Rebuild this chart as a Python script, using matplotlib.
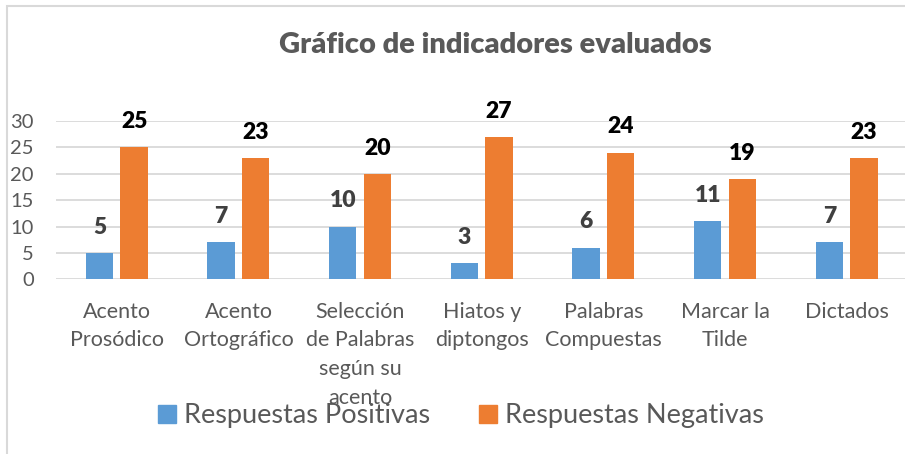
import matplotlib.pyplot as plt
import numpy as np
from matplotlib.patches import Patch, Rectangle

plt.rcParams['font.family'] = ['Lato', 'DejaVu Sans']

categorias = ['Acento\nProsódico', 'Acento\nOrtográfico', 'Selección\nde Palabras\nsegún su\nacento',
              'Hiatos y\ndiptongos', 'Palabras\nCompuestas', 'Marcar la\nTilde', 'Dictados']
positivas = [5, 7, 10, 3, 6, 11, 7]
negativas = [25, 23, 20, 27, 24, 19, 23]
series = ['Respuestas Positivas', 'Respuestas Negativas']
azul = '#5B9BD5'
naranja = '#ED7D31'
gris = '#595959'

W, H = 905, 454
fig = plt.figure(figsize=(W / 100, H / 100), dpi=100)

# marco del grafico (solo se ve arriba y a la izquierda)
fig.patches.append(Rectangle((6.5 / W, -0.1), 1.2, (H - 5.5) / H + 0.1, transform=fig.transFigure,
                             fill=False, edgecolor='#D9D9D9', lw=1.5))

ax = fig.add_axes([56 / W, (H - 279.3) / H, (W - 56) / W, 158.3 / H])
x = np.arange(len(categorias))
w = 0.225
off = 0.142
b1 = ax.bar(x - off, positivas, w, color=azul, zorder=3)
b2 = ax.bar(x + off, negativas, w, color=naranja, zorder=3)

for xi, v in zip(x, positivas):
    ax.annotate(str(v), (xi - off, v), xytext=(0, 18.5), textcoords='offset points',
                ha='center', va='center', fontsize=16.5, fontweight='heavy', color='#404040',
                annotation_clip=False)
for xi, v in zip(x, negativas):
    ax.annotate(str(v), (xi + off, v), xytext=(0, 18.5), textcoords='offset points',
                ha='center', va='center', fontsize=16.5, fontweight='heavy', color='black',
                annotation_clip=False)

ax.set_ylim(0, 30)
ax.set_xlim(-0.5, 6.48)
ax.set_yticks([0, 5, 10, 15, 20, 25, 30])
ax.yaxis.grid(True, color='#D9D9D9', lw=1.3, zorder=0)
ax.set_axisbelow(True)
for s in ax.spines.values():
    s.set_visible(False)
ax.tick_params(axis='y', length=0, pad=16, labelsize=14.5, labelcolor=gris)
ax.set_xticks(x)
ax.set_xticklabels(categorias, fontsize=15.5, color=gris, linespacing=1.55)
ax.tick_params(axis='x', length=0, pad=16)

fig.text(495 / W, 1 - 45 / H, 'Gráfico de indicadores evaluados', ha='center', va='center',
         fontsize=21, fontweight='heavy', color=gris)

handles = [Patch(color=azul), Patch(color=naranja)]
fig.legend(handles, series, loc='center', bbox_to_anchor=(461 / W, 1 - 416 / H), ncol=2,
           frameon=False, fontsize=19.5, labelcolor=gris, handlelength=0.65, handleheight=0.65,
           handletextpad=0.3, columnspacing=1.8)

fig.savefig('out.png', dpi=100)
